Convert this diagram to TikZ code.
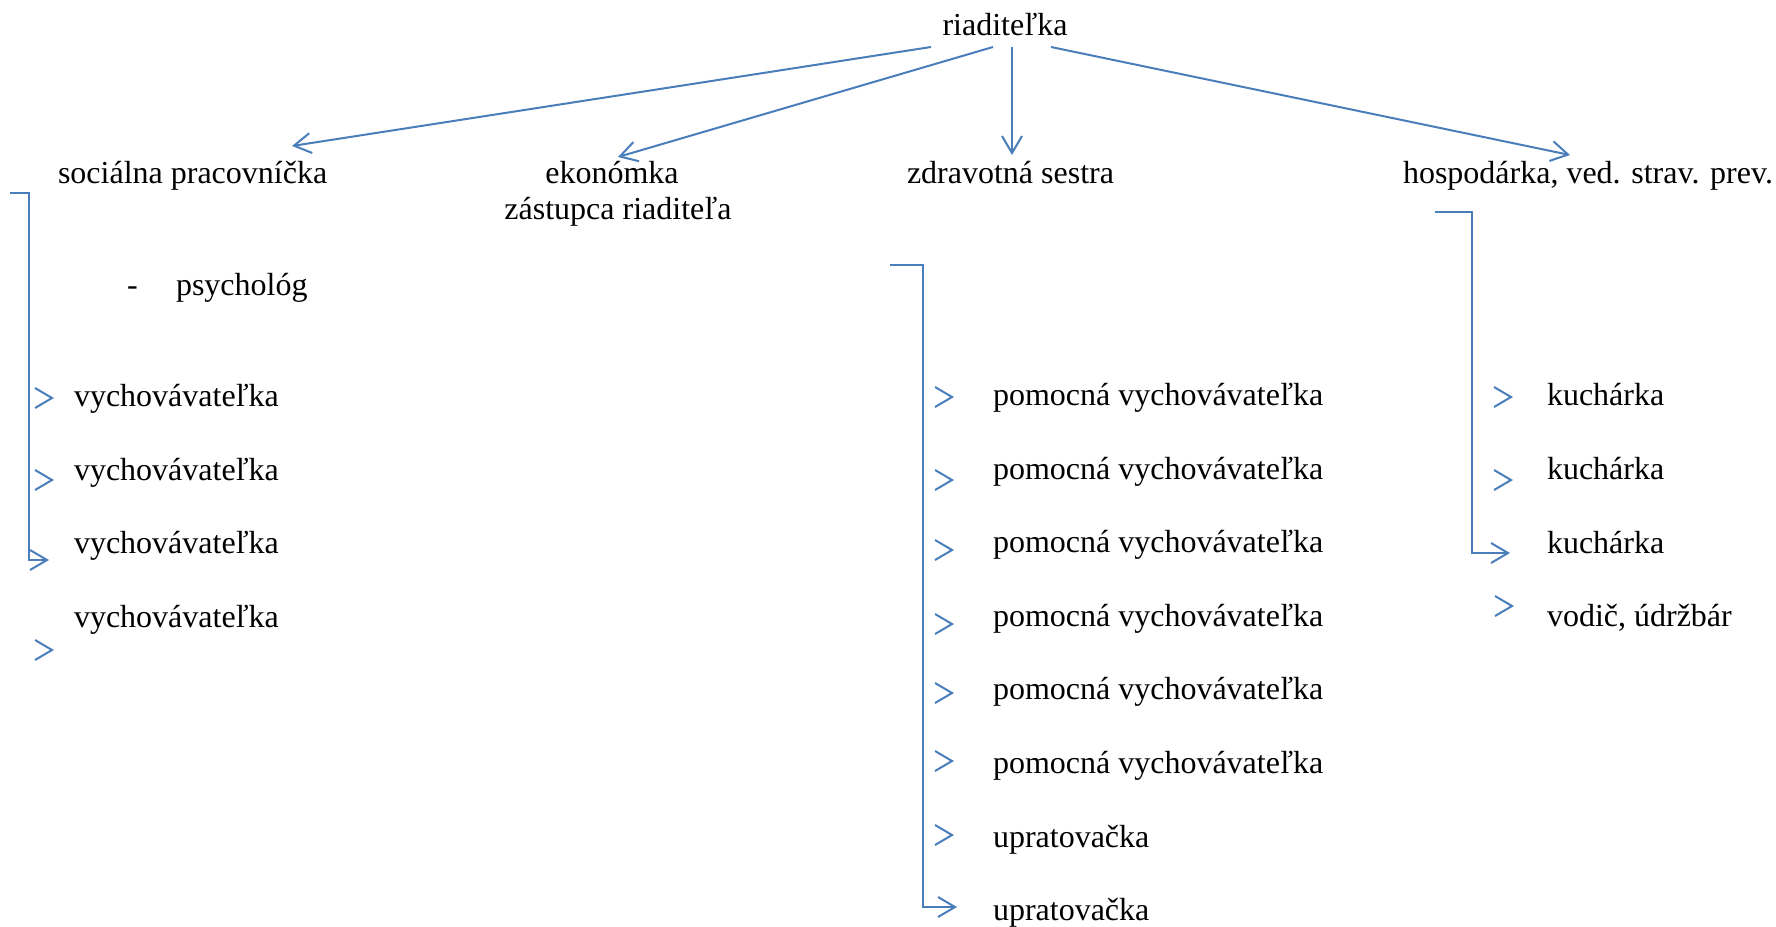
\documentclass[tikz,border=0pt]{standalone}
\usepackage{fontspec}
\setmainfont{Liberation Serif}
\usetikzlibrary{arrows.meta,calc}
\definecolor{wordblue}{RGB}{74,126,187}
\tikzset{
  lbl/.style={inner sep=0pt, outer sep=0pt, anchor=base west, font=\fontsize{32}{38}\selectfont},
  clbl/.style={lbl, anchor=base},
  conn/.style={draw=wordblue, line width=2pt, -{Straight Barb[length=17pt,width=20pt,line width=2pt]}},
  brk/.style={conn, line join=miter},
}
\newcommand{\chev}[1]{\draw[conn] ($(#1)+(-3,0)$) -- (#1);}
\begin{document}
\begin{tikzpicture}[x=1pt,y=-1pt]
\useasboundingbox (0,0) rectangle (1776,926);
% top level
\node[clbl] (riad) at (1005,35) {riaditeľka};
\node[lbl] (soc) at (58,183) {sociálna pracovníčka};
\node[clbl] (eko) at (612,183) {ekonómka};
\node[clbl] (zast) at (618,219) {zástupca riaditeľa};
\node[lbl] (zdr) at (907,183) {zdravotná sestra};
\node[lbl] (hosp) at (1403,183) {hospodárka, ved. strav. prev.};
\node[lbl] (dash) at (127,295) {-};
\node[lbl] (psy) at (176,295) {psychológ};
% left column
\node[lbl] (v1) at (74,406) {vychovávateľka};
\node[lbl] (v2) at (74,480) {vychovávateľka};
\node[lbl] (v3) at (74,553) {vychovávateľka};
\node[lbl] (v4) at (74,627) {vychovávateľka};
% middle column
\node[lbl] (p1) at (993,405) {pomocná vychovávateľka};
\node[lbl] (p2) at (993,479) {pomocná vychovávateľka};
\node[lbl] (p3) at (993,552) {pomocná vychovávateľka};
\node[lbl] (p4) at (993,626) {pomocná vychovávateľka};
\node[lbl] (p5) at (993,699) {pomocná vychovávateľka};
\node[lbl] (p6) at (993,773) {pomocná vychovávateľka};
\node[lbl] (u1) at (993,847) {upratovačka};
\node[lbl] (u2) at (993,920) {upratovačka};
% right column
\node[lbl] (k1) at (1547,405) {kuchárka};
\node[lbl] (k2) at (1547,479) {kuchárka};
\node[lbl] (k3) at (1547,553) {kuchárka};
\node[lbl] (vod) at (1547,626) {vodič, údržbár};
% top connectors
\coordinate (s1) at (931,47);
\coordinate (s2) at (993,47);
\coordinate (s3) at (1012,47);
\coordinate (s4) at (1051,47);
\coordinate (e1) at (292,146);
\coordinate (e2) at (618,157);
\coordinate (e3) at (1012,155);
\coordinate (e4) at (1570,155);
\draw[conn] (s1) -- (e1);
\draw[conn] (s2) -- (e2);
\draw[conn] (s3) -- (e3);
\draw[conn] (s4) -- (e4);
% brackets
\coordinate (bl0) at (10,193);
\coordinate (bl1) at (49,560);
\draw[brk] (bl0) -- (29,193) |- (bl1);
\coordinate (bm0) at (890,265);
\coordinate (bm1) at (957,907);
\draw[brk] (bm0) -- (923,265) |- (bm1);
\coordinate (br0) at (1435,212);
\coordinate (br1) at (1510,553);
\draw[brk] (br0) -- (1472,212) |- (br1);
% loose arrowheads
\coordinate (tl1) at (54,398);
\coordinate (tl2) at (54,480);
\coordinate (tl3) at (54,650);
\coordinate (tm1) at (954,397);
\coordinate (tm2) at (954,480);
\coordinate (tm3) at (954,550);
\coordinate (tm4) at (954,624);
\coordinate (tm5) at (954,693);
\coordinate (tm6) at (954,761);
\coordinate (tm7) at (954,835);
\coordinate (tr1) at (1513,397);
\coordinate (tr2) at (1513,480);
\coordinate (tr3) at (1514,606);
\chev{tl1}\chev{tl2}\chev{tl3}
\chev{tm1}\chev{tm2}\chev{tm3}\chev{tm4}\chev{tm5}\chev{tm6}\chev{tm7}
\chev{tr1}\chev{tr2}\chev{tr3}
\end{tikzpicture}
\end{document}
